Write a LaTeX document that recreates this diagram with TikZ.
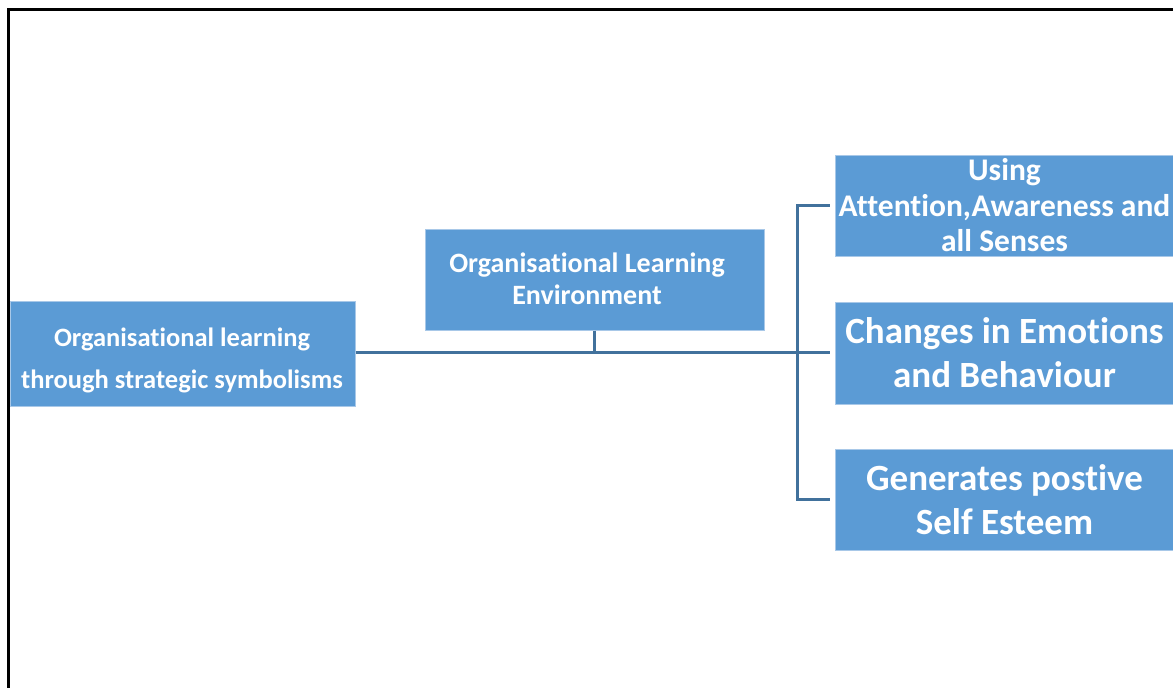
\documentclass[tikz,border=0pt]{standalone}
\usepackage{fontspec}
\setmainfont{Carlito}[Ligatures={NoCommon}]
\definecolor{boxblue}{HTML}{5B9BD5}
\definecolor{boxedge}{HTML}{A8C8E8}
\definecolor{connblue}{HTML}{41719C}
\tikzset{
  box/.style={rectangle, fill=boxblue, draw=boxedge, line width=1pt, inner sep=0pt,
    text=white, align=center},
  label text/.style={text=white, align=center, inner sep=0pt},
  conn/.style={draw=connblue, line width=3pt},
  frame/.style={draw=black, line width=3pt}
}
\begin{document}
\begin{tikzpicture}[x=1pt,y=-1pt]
\useasboundingbox (0,0) rectangle (1173,688);
\draw[frame] (8.5,700) -- (8.5,9.5) -- (1180,9.5);
\node[box, minimum width=345pt, minimum height=105pt] (left) at (182.5,353.5) {};
\node[label text, font=\bfseries\fontsize{26.5}{42}\selectfont] (lefttext) at (182,360)
  {Organisational learning\\through strategic symbolisms};
\node[box, minimum width=339pt, minimum height=101pt] (mid) at (594.5,279.5) {};
\node[label text, font=\bfseries\fontsize{28}{32}\selectfont] (midtext) at (587,279)
  {Organisational Learning\\Environment};
\node[box, minimum width=339pt, minimum height=101pt, font=\bfseries\fontsize{31.5}{35.5}\selectfont] (r1) at (1004.5,205.5)
  {Using\\Attention,Awareness and\\all Senses};
\node[box, minimum width=339pt, minimum height=102pt, font=\bfseries\fontsize{37}{44}\selectfont] (r2) at (1004.5,353)
  {Changes in Emotions\\and Behaviour};
\node[box, minimum width=339pt, minimum height=101pt, font=\bfseries\fontsize{37}{44}\selectfont] (r3) at (1004.5,499.5)
  {Generates postive\\Self Esteem};
\coordinate (j) at (797,352);
\draw[conn, shorten >=5pt] (left.east |- j) -- (r2.west |- j);
\draw[conn] (mid.south) -- (mid.south |- j);
\draw[conn, shorten <=5pt, shorten >=5pt] (r1.west) -| (j) |- (r3.west);
\end{tikzpicture}
\end{document}
